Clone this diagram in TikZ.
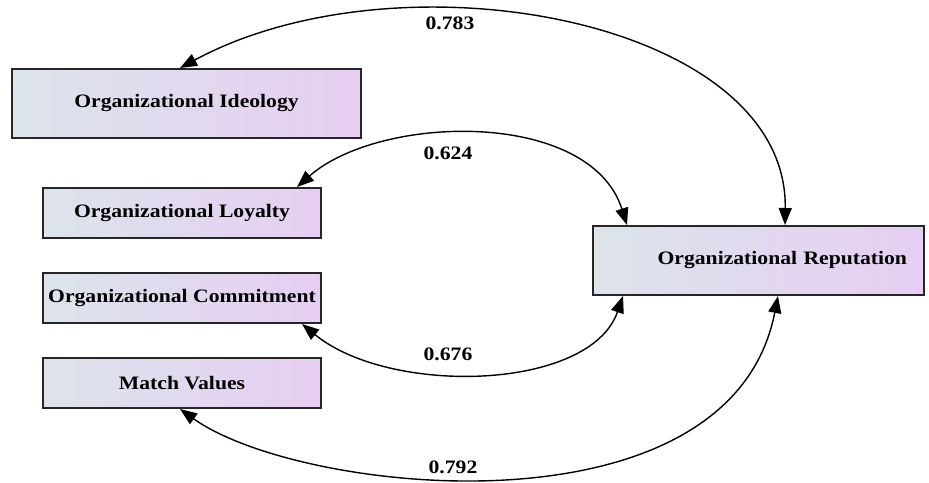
\documentclass[tikz,border=0pt]{standalone}
\usepackage{fontspec}
\newfontfamily\diagfont{Liberation Serif}[FakeStretch=1.14]
\usepackage{tikz}
\usetikzlibrary{arrows.meta, positioning}
\definecolor{boxleft}{HTML}{DCE4EA}
\definecolor{boxright}{HTML}{E6CEF3}
\definecolor{boxline}{HTML}{262626}
\tikzstyle{varbox} = [rectangle, draw=boxline, line width=2pt, left color=boxleft, right color=boxright, inner sep=0pt, minimum width=278pt, minimum height=50pt, font=\diagfont\bfseries\fontsize{19}{21}\selectfont, text=black]
\tikzstyle{arrow} = [line width=1.4pt, <->, >={Triangle[length=17pt, width=13pt]}]
\tikzstyle{coef} = [inner sep=0pt, font=\diagfont\bfseries\fontsize{19}{21}\selectfont, text=black]

\begin{document}
\begin{tikzpicture}[x=1pt, y=-1pt, node distance=85pt]
\useasboundingbox (0,0) rectangle (929,482);

\node (ideo) [varbox, minimum width=349pt, minimum height=69pt] at (186.5,103.5) {Organizational Ideology};
\node (loyal) [varbox] at (182,213) {Organizational Loyalty};
\node (commit) [varbox, below of=loyal] {Organizational Commitment};
\node (match) [varbox, below of=commit] {Match Values};
\node (rep) [varbox, minimum height=69pt, text width=297pt, inner xsep=17pt, align=right] at (758.5,260.5) {Organizational Reputation};

\draw[arrow] ([xshift=-6.5pt]ideo.north) .. controls +(220,-119) and +(3,-206) .. ([xshift=26.5pt]rep.north);
\draw[arrow] ([xshift=115pt]loyal.north) .. controls +(83,-73) and +(-37,-116) .. ([xshift=-131.5pt]rep.north);
\draw[arrow] ([xshift=120pt]commit.south) .. controls +(88,72) and +(-33,95) .. ([xshift=-135.5pt]rep.south);
\draw[arrow] ([xshift=-2pt]match.south) .. controls +(120,86) and +(-48,245) .. ([xshift=19.5pt]rep.south);

\node (c1) [coef] at (450,23) {0.783};
\node (c2) [coef] at (448,153) {0.624};
\node (c3) [coef] at (448,354) {0.676};
\node (c4) [coef] at (453,467) {0.792};

\end{tikzpicture}
\end{document}
